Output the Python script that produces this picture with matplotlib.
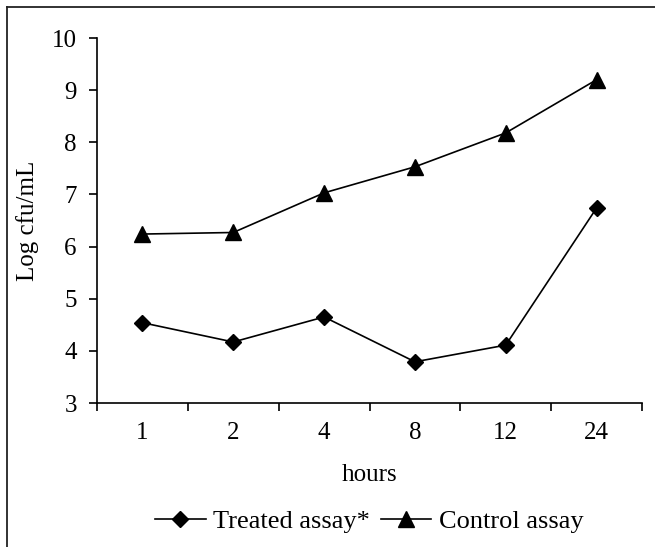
import matplotlib
matplotlib.use("Agg")
import matplotlib.pyplot as plt
from matplotlib.lines import Line2D

plt.rcParams['font.family'] = ['Liberation Serif', 'DejaVu Serif']

hours = ["1", "2", "4", "8", "12", "24"]
treated = [4.54, 4.17, 4.65, 3.79, 4.11, 6.74]
control = [6.24, 6.27, 7.03, 7.53, 8.18, 9.20]
yticks = [3, 4, 5, 6, 7, 8, 9, 10]

FS = 18
LFS = 19
W, H = 655, 547
fig = plt.figure(figsize=(W/100, H/100), dpi=100)
ax = fig.add_axes([97/W, 1-403/H, (642-97)/W, (403-38)/H])

x = list(range(len(hours)))
ax.plot(x, treated, color='black', lw=1.2, marker='D', ms=8.5, label='Treated assay*')
ax.plot(x, control, color='black', lw=1.2, marker='^', ms=11.5, label='Control assay')

ax.set_ylim(3, 10)
ax.set_yticks(yticks)
ax.set_xlim(-0.5, len(hours) - 0.5)
ax.set_xticks([i - 0.5 for i in range(len(hours) + 1)])
ax.set_xticklabels([])
ax.set_xticks(x, minor=True)
ax.set_xticklabels(hours, minor=True)
ax.tick_params(axis='x', which='minor', length=0, pad=14, labelsize=FS)
ax.tick_params(axis='x', which='major', length=6, width=1.2, direction='out')
ax.tick_params(axis='y', length=6, width=1.2, direction='out', labelsize=FS, pad=8.5)
for s in ['top', 'right']:
    ax.spines[s].set_visible(False)
for s in ['left', 'bottom']:
    ax.spines[s].set_linewidth(1.2)

ax.set_xlabel('hours', fontsize=FS, labelpad=14)
ax.set_ylabel('Log cfu/mL', fontsize=FS, labelpad=9)

ax.legend(loc='center', bbox_to_anchor=(369.5/W, 1-521/H), bbox_transform=fig.transFigure,
          ncol=2, frameon=False, fontsize=LFS, handlelength=1.9, handletextpad=0.3,
          columnspacing=0.4, borderaxespad=0, borderpad=0)

# partial frame: top and left edges only
fig.add_artist(Line2D([7/W, 1], [1-7/H, 1-7/H], transform=fig.transFigure, color='#222222', lw=1.3))
fig.add_artist(Line2D([7/W, 7/W], [0, 1-7/H], transform=fig.transFigure, color='#222222', lw=1.3))

fig.savefig('out.png', dpi=100)
